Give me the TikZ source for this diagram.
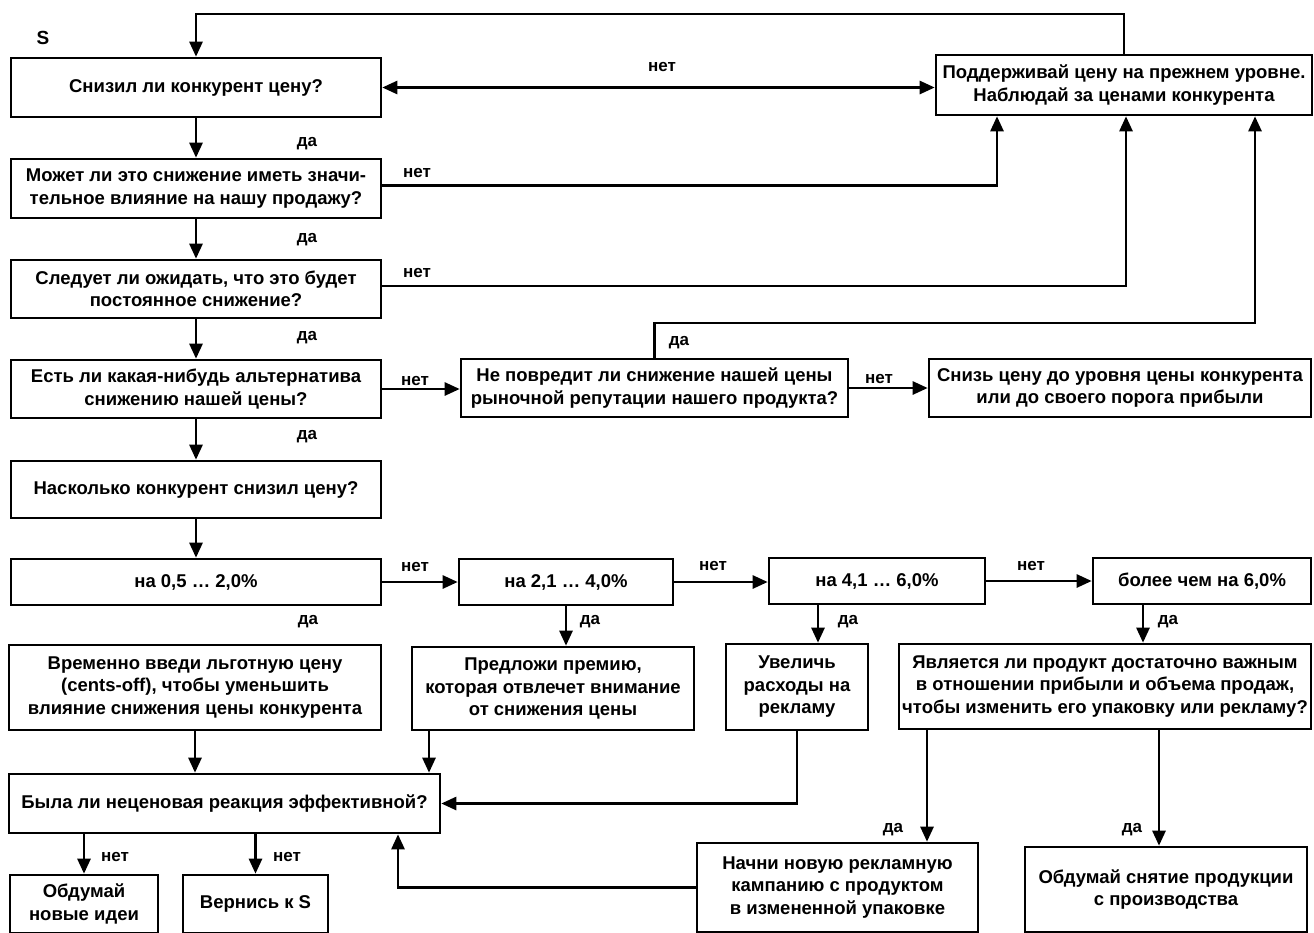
\documentclass[tikz,border=0pt]{standalone}
\usepackage{fontspec}
\setmainfont{Liberation Sans}
\usetikzlibrary{arrows.meta}
\begin{document}
\begin{tikzpicture}[x=1pt,y=-1pt,
  box/.style={draw,line width=2.6pt,align=center,inner sep=1pt,font=\bfseries\fontsize{18.5}{22.5}\selectfont},
  lbl/.style={font=\bfseries\fontsize{17}{18}\selectfont,inner sep=0pt},
  arr/.style={line width=2.6pt,-{Triangle[length=15pt,width=13pt]}},
  darr/.style={line width=2.6pt,{Triangle[length=15pt,width=13pt]}-{Triangle[length=15pt,width=13pt]}},
  line/.style={line width=2.6pt}]
\useasboundingbox (0,0) rectangle (1314,932);
% boxes
\node[box,minimum width=370pt,minimum height=59pt] (A) at (196,87.5) {Снизил ли конкурент цену?};
\node[box,minimum width=376pt,minimum height=60pt] (P) at (1124,85) {Поддерживай цену на прежнем уровне.\\Наблюдай за ценами конкурента};
\node[box,minimum width=370pt,minimum height=59pt] (B) at (196,188.5) {Может ли это снижение иметь значи-\\тельное влияние на нашу продажу?};
\node[box,minimum width=370pt,minimum height=58pt] (C) at (196,289) {Следует ли ожидать, что это будет\\постоянное снижение?};
\node[box,minimum width=370pt,minimum height=58pt] (D) at (196,389) {Есть ли какая-нибудь альтернатива\\снижению нашей цены?};
\node[box,minimum width=387pt,minimum height=58pt] (E) at (654.5,388) {Не повредит ли снижение нашей цены\\рыночной репутации нашего продукта?};
\node[box,minimum width=382pt,minimum height=58pt] (F) at (1120,388) {Снизь цену до уровня цены конкурента\\или до своего порога прибыли};
\node[box,minimum width=370pt,minimum height=57pt] (G) at (196,489.5) {Насколько конкурент снизил цену?};
\node[box,minimum width=370pt,minimum height=46pt] (H) at (196,582) {на 0,5 … 2,0\%};
\node[box,minimum width=214pt,minimum height=46pt] (I) at (566,582) {на 2,1 … 4,0\%};
\node[box,minimum width=216pt,minimum height=46pt] (J) at (877,581) {на 4,1 … 6,0\%};
\node[box,minimum width=218pt,minimum height=46pt] (K) at (1202,581) {более чем на 6,0\%};
\node[box,minimum width=372pt,minimum height=85pt] (L) at (195,687.5) {Временно введи льготную цену\\(cents-off), чтобы уменьшить\\влияние снижения цены конкурента};
\node[box,minimum width=282pt,minimum height=83pt] (M) at (553,688.5) {Предложи премию,\\которая отвлечет внимание\\от снижения цены};
\node[box,minimum width=142pt,minimum height=86pt] (N) at (797,687) {Увеличь\\расходы на\\рекламу};
\node[box,minimum width=412pt,minimum height=85pt] (Q) at (1105,686.5) {Является ли продукт достаточно важным\\в отношении прибыли и объема продаж,\\чтобы изменить его упаковку или рекламу?};
\node[box,minimum width=431pt,minimum height=59pt] (R) at (224.5,803.5) {Была ли неценовая реакция эффективной?};
\node[box,minimum width=148pt,minimum height=58pt] (S1) at (84,904) {Обдумай\\новые идеи};
\node[box,minimum width=145pt,minimum height=58pt] (S2) at (255.5,904) {Вернись к S};
\node[box,minimum width=281pt,minimum height=89pt] (T) at (837.5,887.5) {Начни новую рекламную\\кампанию с продуктом\\в измененной упаковке};
\node[box,minimum width=282pt,minimum height=85pt] (U) at (1166,889.5) {Обдумай снятие продукции\\с производства};
% coordinates
\coordinate (eup) at (1255,323);
% connectors
\draw[arr] (P.north) |- (A.north |- 0,14) -- (A.north);
\draw[darr] (A.east) -- (P.west |- A.east);
\draw[arr] (A.south) -- (B.north);
\draw[arr] (B.south) -- (C.north);
\draw[arr] (C.south) -- (D.north);
\draw[arr] (D.south) -- (G.north);
\draw[arr] (G.south) -- (H.north);
\draw[arr] ([yshift=3pt]B.east) -| (P.south -| 997,0);
\draw[arr] ([yshift=3pt]C.east) -| ([xshift=2pt]P.south);
\draw[arr] (E.north) |- (eup) -- (eup |- P.south);
\draw[arr] (D.east) -- (E.west |- D.east);
\draw[arr] (E.east) -- (F.west);
\draw[arr] (H.east) -- (I.west);
\draw[arr] (I.east) -- (J.west |- I.east);
\draw[arr] (J.east) -- (K.west);
\draw[arr] (I.south) -- (I.south |- M.north);
\draw[arr] (J.south -| 818,0) -- (N.north -| 818,0);
\draw[arr] (K.south -| 1143,0) -- (Q.north -| 1143,0);
\draw[arr] (L.south) -- (L.south |- R.north);
\draw[arr] (M.south -| 429,0) -- (R.north -| 429,0);
\draw[arr] (N.south) |- (R.east);
\draw[arr] (R.south -| S1.north) -- (S1.north);
\draw[arr] (R.south -| S2.north) -- (S2.north);
\draw[arr] (Q.south -| 927,0) -- (T.north -| 927,0);
\draw[arr] (Q.south -| 1159,0) -- (U.north -| 1159,0);
\draw[arr] (T.west) -| (R.south -| 398,0);
% labels
\node[font=\bfseries\fontsize{19}{20}\selectfont,inner sep=0pt] (s) at (43,38) {S};
\node[lbl] (l1) at (662,67) {нет};
\node[lbl] (l2) at (307,144) {да};
\node[lbl] (l3) at (417,173) {нет};
\node[lbl] (l4) at (307,240) {да};
\node[lbl] (l5) at (417,273) {нет};
\node[lbl] (l6) at (307,338) {да};
\node[lbl] (l7) at (415,381) {нет};
\node[lbl] (l8) at (679,343) {да};
\node[lbl] (l9) at (879,379) {нет};
\node[lbl] (l10) at (307,437) {да};
\node[lbl] (l11) at (415,567) {нет};
\node[lbl] (l12) at (713,566) {нет};
\node[lbl] (l13) at (1031,566) {нет};
\node[lbl] (l14) at (308,622) {да};
\node[lbl] (l15) at (590,622) {да};
\node[lbl] (l16) at (848,622) {да};
\node[lbl] (l17) at (1168,622) {да};
\node[lbl] (l18) at (115,857) {нет};
\node[lbl] (l19) at (287,857) {нет};
\node[lbl] (l20) at (893,830) {да};
\node[lbl] (l21) at (1132,830) {да};
\end{tikzpicture}
\end{document}
